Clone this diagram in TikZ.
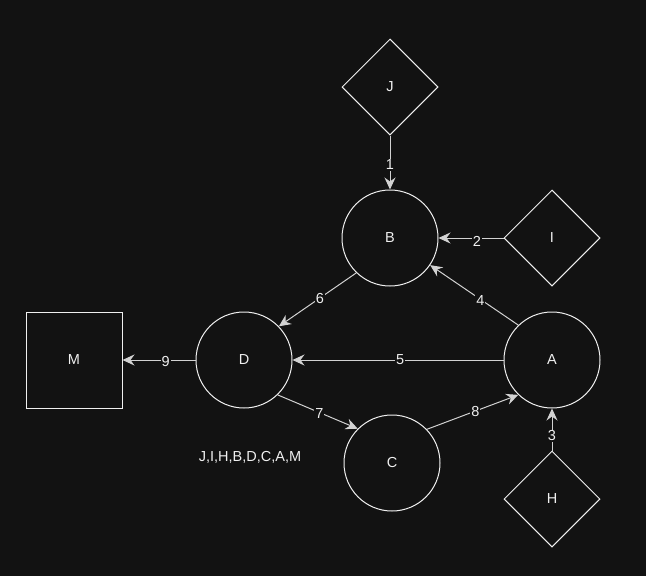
\documentclass[tikz,border=0pt]{standalone}
\usepackage{fontspec}
\setmainfont{Liberation Sans}
\usetikzlibrary{shapes.geometric,arrows.meta}
\definecolor{bgc}{HTML}{121212}
\definecolor{shapec}{HTML}{F0F0F0}
\definecolor{edgec}{HTML}{D2D2D2}
\begin{document}
\begin{tikzpicture}[x=1pt,y=-1pt,
  every node/.style={font=\fontsize{14.5}{16}\selectfont, text=shapec},
  circ/.style={draw=shapec, line width=1pt, circle, minimum size=96pt, inner sep=0pt},
  diam/.style={draw=shapec, line width=1pt, diamond, shape aspect=1, minimum width=96pt, minimum height=96pt, inner sep=0pt},
  sq/.style={draw=shapec, line width=1pt, rectangle, minimum width=96pt, minimum height=96pt, inner sep=0pt},
  edge/.style={draw=edgec, line width=1pt, -{Stealth[length=12pt, width=11pt, inset=4pt]}},
  lbl/.style={fill=bgc, inner sep=1pt, text=shapec}
]
\fill[bgc] (0,0) rectangle (646,576);
\useasboundingbox (0,0) rectangle (646,576);

\node[diam] (J) at (390,87) {J};
\node[circ] (B) at (390,238) {B};
\node[diam] (I) at (552,238) {I};
\node[circ] (A) at (552,360) {A};
\node[circ] (D) at (244,360) {D};
\node[sq] (M) at (74,360) {M};
\node[circ] (C) at (392,463) {C};
\node[diam] (H) at (552,499) {H};
\node (order) at (250,457) {J,I,H,B,D,C,A,M};

\draw[edge] (J.south) -- node[lbl, pos=0.52, yshift=-1pt] {1} (B.north);
\draw[edge] (I.west) -- node[lbl, pos=0.41, yshift=-3pt] {2} (B.east);
\draw[edge] (H.north) -- node[lbl, pos=0.35] {3} (A.south);
\draw[edge] (A.134) -- node[lbl, pos=0.43, yshift=-1pt] {4} (B.-34);
\draw[edge] (A.west) -- node[lbl, pos=0.49] {5} (D.east);
\draw[edge] (B.226) -- node[lbl, pos=0.47, yshift=-1pt] {6} (D.44);
\draw[edge] (D.-46) -- node[lbl, pos=0.52, yshift=-1pt] {7} (C.135);
\draw[edge] (C.44) -- node[lbl, pos=0.53] {8} (A.226);
\draw[edge] (D.west) -- node[lbl, pos=0.41, yshift=-2pt] {9} (M.east);
\end{tikzpicture}
\end{document}
